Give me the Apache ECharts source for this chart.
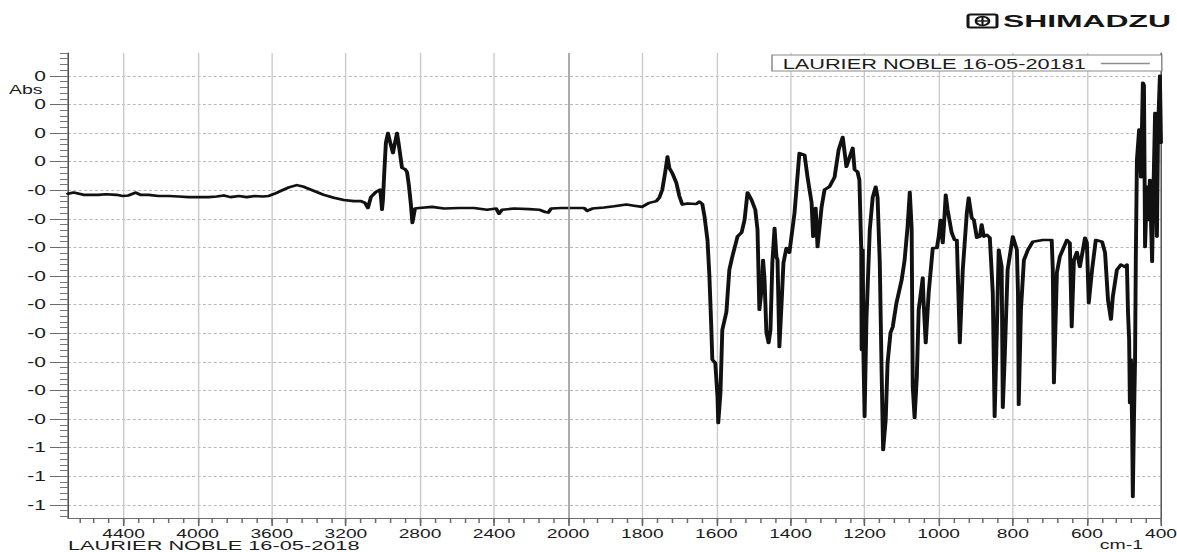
<!DOCTYPE html>
<html>
<head>
<meta charset="utf-8">
<script src="https://cdn.jsdelivr.net/npm/echarts@6/dist/echarts.min.js"></script>
<style>
  html, body { margin: 0; padding: 0; background: #fff; }
  #frame { width: 1177px; height: 552px; overflow: hidden; background: #fff; }
  /* the instrument printout uses a wide, extended type face: the chart is laid out
     on a narrower canvas and stretched horizontally to the full page width */
  #chart { width: 785px; height: 552px; transform: scaleX(1.49936); transform-origin: 0 0; }
</style>
</head>
<body>
<div id="frame"><div id="chart"></div></div>
<script>
// ---- sample and spectrum ----
const sampleName = 'LAURIER NOBLE 16-05-2018';
const legendName = 'LAURIER NOBLE 16-05-20181';
const brandName = 'SHIMADZU';
const yAxisTitle = 'Abs';
const xAxisUnit = 'cm-1';

// wavenumber (cm-1), from high to low
const wavenumber = [
  4700, 4670, 4616, 4535, 4497, 4438, 4405, 4373, 4335, 4308,
  4265, 4211, 4157, 4103, 4049, 3995, 3941, 3897, 3859, 3822,
  3778, 3735, 3692, 3649, 3616, 3584, 3551, 3508, 3465, 3427,
  3373, 3319, 3265, 3211, 3157, 3119, 3097, 3081, 3065, 3038,
  3016, 3011, 3005, 3000, 2992, 2984, 2973, 2962, 2946, 2935,
  2924, 2914, 2897, 2881, 2870, 2860, 2849, 2841, 2827, 2805,
  2735, 2670, 2589, 2508, 2438, 2389, 2373, 2357, 2292, 2211,
  2157, 2124, 2108, 2092, 2038,
  2000, 1970, 1957, 1949, 1935, 1903, 1876, 1843, 1822, 1800,
  1781, 1762, 1754, 1746, 1738, 1732, 1727, 1719, 1708, 1700,
  1692, 1678, 1654, 1646, 1638, 1632, 1624, 1619, 1614, 1611,
  1603, 1597, 1595, 1589, 1584, 1573, 1565, 1557, 1543, 1532,
  1524, 1516, 1505, 1495, 1489, 1484, 1478, 1474, 1470, 1465,
  1459, 1454, 1449, 1443, 1438, 1435, 1430, 1424, 1419, 1411,
  1403, 1389, 1376, 1362, 1354, 1343, 1339, 1332, 1327, 1316,
  1308, 1295, 1281, 1270, 1259, 1249, 1241, 1232, 1227, 1219,
  1214, 1209, 1208, 1205, 1203, 1200, 1195, 1186, 1178, 1170,
  1165, 1159, 1154, 1150, 1143, 1138, 1130, 1124, 1114, 1100,
  1092, 1084, 1078, 1073, 1070, 1065, 1059, 1054, 1043, 1041,
  1035, 1027, 1016, 1005, 1000, 995, 989, 986, 981, 976,
  965, 957, 951, 943, 935, 924, 919, 911, 905, 897,
  889, 884, 878, 870, 862, 854, 849, 843, 838, 830,
  827, 822, 814, 800, 789, 786, 784, 778, 770, 759,
  746, 719, 695, 692, 689, 681, 673, 654, 646, 641,
  635, 627, 619, 614, 605, 600, 595, 586, 576, 559,
  551, 543, 535, 530, 519, 508, 497, 492, 489, 486,
  484, 481, 478, 476, 473, 470, 468, 465, 459, 454,
  449, 446, 443, 438, 435, 430, 424, 422, 416, 411,
  408, 403, 400
];

// absorbance at each wavenumber above
const absorbance = [
  -0.056, -0.054, -0.058, -0.058, -0.057, -0.058, -0.060, -0.059, -0.054, -0.058,
  -0.058, -0.060, -0.060, -0.061, -0.062, -0.062, -0.062, -0.061, -0.059, -0.062,
  -0.060, -0.062, -0.060, -0.061, -0.060, -0.056, -0.051, -0.045, -0.041, -0.044,
  -0.051, -0.058, -0.063, -0.067, -0.069, -0.069, -0.072, -0.081, -0.062, -0.053,
  -0.049, -0.060, -0.084, -0.067, -0.014, 0.033, 0.050, 0.035, 0.015, 0.033,
  0.050, 0.029, -0.011, -0.013, -0.018, -0.041, -0.075, -0.107, -0.082, -0.081,
  -0.079, -0.082, -0.081, -0.081, -0.084, -0.082, -0.091, -0.084, -0.082, -0.083,
  -0.084, -0.088, -0.089, -0.082, -0.081,
  -0.081, -0.081, -0.081, -0.086, -0.082, -0.080, -0.078, -0.075, -0.077, -0.079,
  -0.072, -0.069, -0.063, -0.049, -0.018, 0.009, -0.011, -0.020, -0.037, -0.060,
  -0.075, -0.073, -0.074, -0.070, -0.074, -0.096, -0.137, -0.198, -0.285, -0.346,
  -0.352, -0.411, -0.457, -0.404, -0.294, -0.263, -0.189, -0.166, -0.131, -0.124,
  -0.102, -0.054, -0.067, -0.084, -0.119, -0.259, -0.224, -0.172, -0.207, -0.299,
  -0.317, -0.294, -0.177, -0.116, -0.166, -0.172, -0.324, -0.247, -0.177, -0.151,
  -0.159, -0.089, 0.015, 0.012, -0.027, -0.072, -0.131, -0.081, -0.149, -0.079,
  -0.049, -0.044, -0.027, 0.021, 0.043, -0.009, 0.007, 0.024, -0.014, -0.018,
  -0.032, -0.154, -0.329, -0.154, -0.341, -0.446, -0.276, -0.119, -0.062, -0.044,
  -0.062, -0.177, -0.369, -0.504, -0.451, -0.352, -0.299, -0.289, -0.247, -0.207,
  -0.172, -0.114, -0.053, -0.116, -0.394, -0.448, -0.376, -0.259, -0.203, -0.242,
  -0.317, -0.229, -0.151, -0.151, -0.131, -0.102, -0.142, -0.114, -0.058, -0.084,
  -0.124, -0.137, -0.137, -0.317, -0.189, -0.089, -0.063, -0.098, -0.102, -0.133,
  -0.131, -0.110, -0.131, -0.128, -0.133, -0.229, -0.446, -0.294, -0.154, -0.184,
  -0.430, -0.346, -0.189, -0.131, -0.154, -0.229, -0.425, -0.259, -0.172, -0.154,
  -0.140, -0.137, -0.137, -0.189, -0.387, -0.194, -0.166, -0.137, -0.142, -0.289,
  -0.172, -0.158, -0.184, -0.166, -0.133, -0.142, -0.247, -0.189, -0.137, -0.140,
  -0.159, -0.242, -0.276, -0.236, -0.189, -0.180, -0.184, -0.180, -0.264, -0.311,
  -0.422, -0.346, -0.460, -0.586, -0.451, -0.346, -0.172, 0.003, 0.056, -0.027,
  0.138, 0.134, -0.149, -0.044, -0.102, -0.032, -0.175, -0.102, 0.085, -0.131,
  0.056, 0.150, 0.033
];

// axis ticks
const xTickValues = [4400, 4000, 3600, 3200, 2800, 2400, 2000, 1800, 1600, 1400, 1200, 1000, 800, 600, 400];
const yTickValues = [0.15, 0.10, 0.05, 0, -0.05, -0.10, -0.15, -0.20, -0.25, -0.30, -0.35, -0.40, -0.45, -0.50, -0.55, -0.60];
const xRange = [400, 4700];
const yRange = [-0.623, 0.19];

// ---- drawing ----
const SX = 1177 / 785;                 // horizontal stretch applied by CSS
const font = "'Liberation Sans', Arial, Helvetica, sans-serif";
const ink = '#1c1c1c';

// The wavenumber axis is compressed by half above 2000 cm-1.
function toAxis(w) { return w > 2000 ? 2000 + (w - 2000) / 2 : w; }
function fromAxis(u) { return u > 2000 ? 2000 + (u - 2000) * 2 : u; }

const xMajor = xTickValues.map(toAxis);
const xMinor = [];
for (let u = toAxis(xRange[0]); u <= toAxis(xRange[1]) + 1e-6; u += 40) xMinor.push(u);
const yMinor = [];
for (let i = Math.ceil(yRange[0] * 100); i <= Math.floor(yRange[1] * 100); i++) yMinor.push(i / 100);

function absLabel(v) {
  const r = Math.round(Math.abs(v) + 1e-9);
  return (v < -1e-9 ? '-' : '') + r;
}

const chart = echarts.init(document.getElementById('chart'), null, { renderer: 'svg' });

const xBase = {
  type: 'value', position: 'bottom', inverse: true,
  min: toAxis(xRange[0]), max: toAxis(xRange[1])
};
const yBase = { type: 'value', min: yRange[0], max: yRange[1] };

chart.setOption({
  animation: false,
  backgroundColor: '#ffffff',
  textStyle: { fontFamily: font },
  grid: {
    left: 68 / SX, right: 16 / SX, top: 53, bottom: 34,
    containLabel: false, outerBoundsMode: 'none'
  },
  legend: {
    show: true,
    left: 772 / SX, top: 55,
    align: 'right',
    icon: 'rect',
    padding: [1, 8, 0, 7],
    itemWidth: 49 / SX, itemHeight: 1.4,
    backgroundColor: '#ffffff',
    borderColor: '#8a8a8a', borderWidth: 1, borderRadius: 0,
    itemStyle: { color: '#8c8c8c', borderWidth: 0 },
    textStyle: { fontSize: 14.5, color: ink, fontFamily: font, lineHeight: 12, padding: [0, 5, 0, 0] },
    data: [legendName]
  },
  xAxis: [
    Object.assign({}, xBase, {
      axisLine: { show: true, onZero: false, lineStyle: { color: '#6e6e6e', width: 1 } },
      axisTick: { show: true, customValues: xMajor, length: 8, lineStyle: { color: '#5a5a5a', width: 1 } },
      axisLabel: {
        show: true, customValues: xMajor, margin: 10,
        fontSize: 12.8, lineHeight: 11, color: ink, fontFamily: font,
        formatter: (u) => String(Math.round(fromAxis(u)))
      },
      splitLine: { show: true, lineStyle: { color: '#c9c9c9', width: 0.9 } }
    }),
    Object.assign({}, xBase, {
      axisLine: { show: false, onZero: false },
      axisTick: { show: true, customValues: xMinor, length: 5, lineStyle: { color: '#6a6a6a', width: 1 } },
      axisLabel: { show: false },
      splitLine: { show: false }
    })
  ],
  yAxis: [
    Object.assign({}, yBase, {
      position: 'left',
      axisLine: { show: true, onZero: false, lineStyle: { color: '#4a4a4a', width: 1 } },
      axisTick: { show: true, customValues: yTickValues, length: 18 / SX, lineStyle: { color: '#6a6a6a', width: 1 } },
      axisLabel: {
        show: true, customValues: yTickValues, margin: 22 / SX,
        fontSize: 14, lineHeight: 12, color: ink, fontFamily: font, formatter: absLabel
      },
      splitLine: { show: true, lineStyle: { color: '#b9b9b9', width: 1, type: [2, 1.6] } }
    }),
    Object.assign({}, yBase, {
      position: 'left',
      axisLine: { show: false, onZero: false },
      axisTick: { show: true, customValues: yMinor, length: 8 / SX, lineStyle: { color: '#777', width: 1 } },
      axisLabel: { show: false },
      splitLine: { show: false }
    }),
    Object.assign({}, yBase, {
      position: 'right',
      axisLine: { show: true, onZero: false, lineStyle: { color: '#5a5a5a', width: 1 } },
      axisTick: { show: false },
      axisLabel: { show: false },
      splitLine: { show: false }
    })
  ],
  series: [{
    name: legendName,
    type: 'line',
    xAxisIndex: 0, yAxisIndex: 0,
    data: wavenumber.map((w, i) => [toAxis(w), absorbance[i]]),
    symbol: 'none', showSymbol: false,
    lineStyle: { color: '#111111', width: 2.6, cap: 'round', join: 'round' },
    itemStyle: { color: '#111111' },
    markLine: {
      silent: true, symbol: 'none', label: { show: false },
      lineStyle: { color: '#9c9c9c', type: 'solid', width: 1 },
      data: [{ xAxis: toAxis(2000) }]
    }
  }],
  graphic: [
    {
      type: 'text', x: 9 / SX, y: 89.5,
      style: { text: yAxisTitle, fontSize: 13, lineHeight: 11, fontFamily: font, fill: ink, align: 'left', verticalAlign: 'middle' }
    },
    {
      type: 'text', x: 68 / SX, y: 545.5, scaleX: 1.1,
      style: { text: sampleName, fontSize: 13.2, lineHeight: 11, fontFamily: font, fill: ink, align: 'left', verticalAlign: 'middle' }
    },
    {
      type: 'text', x: 1143 / SX, y: 545,
      style: { text: xAxisUnit, fontSize: 13, lineHeight: 11, fontFamily: font, fill: ink, align: 'right', verticalAlign: 'middle' }
    },
    {
      type: 'group', x: 968 / SX, y: 14.5,
      children: [
        { type: 'rect', shape: { x: 0, y: 0, width: 29 / SX, height: 13, r: 1.5 },
          style: { fill: '#ffffff', stroke: '#151515', lineWidth: 2 } },
        { type: 'circle', shape: { cx: 14.5 / SX, cy: 6.5, r: 4.4 },
          style: { fill: 'none', stroke: '#151515', lineWidth: 1.6 } },
        { type: 'line', shape: { x1: 14.5 / SX, y1: 2.2, x2: 14.5 / SX, y2: 10.8 },
          style: { stroke: '#151515', lineWidth: 1.4 } },
        { type: 'line', shape: { x1: 14.5 / SX - 4.4, y1: 6.5, x2: 14.5 / SX + 4.4, y2: 6.5 },
          style: { stroke: '#151515', lineWidth: 1.4 } }
      ]
    },
    {
      type: 'text', x: 1003 / SX, y: 21, scaleX: 1.25,
      style: { text: brandName, fontSize: 17, fontWeight: 'bold', fontFamily: font, fill: '#151515', align: 'left', verticalAlign: 'middle' }
    }
  ]
});
</script>
</body>
</html>
